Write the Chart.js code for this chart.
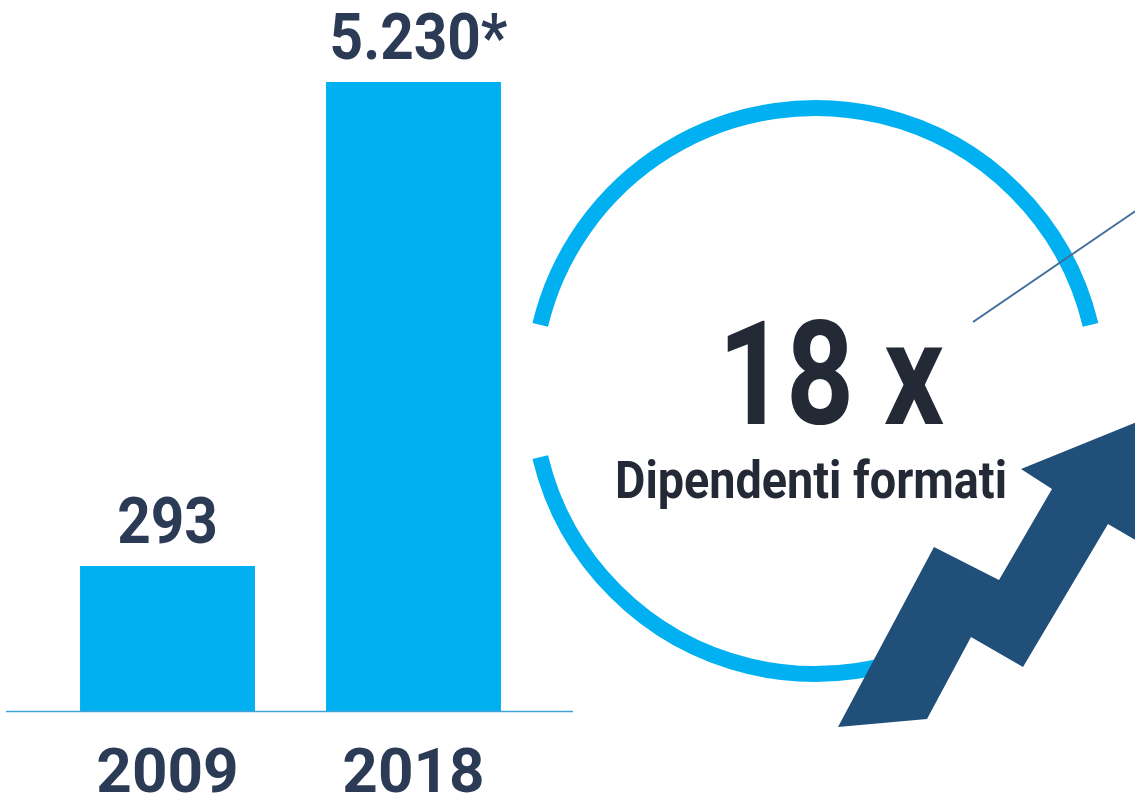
<!DOCTYPE html>
<html>
<head>
<meta charset="utf-8">
<script src="https://cdn.jsdelivr.net/npm/chart.js@4"></script>
<style>
  html, body { margin: 0; padding: 0; background: #fff; }
  canvas { display: block; }
</style>
</head>
<body>
<canvas id="trainedChart" width="1135" height="802"></canvas>
<script>
const years = ['2009', '2018'];
const trained = [293, 5230];
const notes = ['', '*'];
const caption = 'Dipendenti formati';

const FONT = 'Roboto, "Liberation Sans", sans-serif';
const BLUE = '#00b0f0';
const NAVY = '#2b3a55';

// 5230 -> "5.230"
const fmt = v => String(v).replace(/\B(?=(\d{3})+(?!\d))/g, '.');

// draw text centred on x, squeezed horizontally to a given width
function fitText(ctx, text, x, y, width) {
  const w = ctx.measureText(text).width;
  ctx.save();
  ctx.translate(x, y);
  ctx.scale(Math.min(1, width / w), 1);
  ctx.textAlign = 'center';
  ctx.fillText(text, 0, 0);
  ctx.restore();
}

// values over the bars
const valueLabels = {
  id: 'valueLabels',
  afterDatasetsDraw(chart) {
    const ctx = chart.ctx;
    const meta = chart.getDatasetMeta(0);
    ctx.save();
    ctx.fillStyle = NAVY;
    ctx.font = 'bold 65px ' + FONT;
    ctx.textBaseline = 'alphabetic';
    meta.data.forEach((bar, i) => {
      const txt = fmt(trained[i]) + notes[i];
      const w = ctx.measureText(txt).width * 0.9;
      fitText(ctx, txt, bar.x + (notes[i] ? 5 : 0), bar.y - 23.5, w);
    });
    ctx.restore();
  }
};

// baseline, ring, pointer line, growth arrow and the ratio text
const decorations = {
  id: 'decorations',
  afterDraw(chart) {
    const ctx = chart.ctx;
    const area = chart.chartArea;
    ctx.save();

    ctx.strokeStyle = '#3fa3da';
    ctx.lineWidth = 1.5;
    ctx.beginPath();
    ctx.moveTo(6, area.bottom + 0.5);
    ctx.lineTo(573, area.bottom + 0.5);
    ctx.stroke();

    const cx = 815.4, cy = 391, r = 283;
    const gap = 13.5 * Math.PI / 180;
    ctx.strokeStyle = BLUE;
    ctx.lineWidth = 16;
    ctx.lineCap = 'butt';
    ctx.beginPath();
    ctx.arc(cx, cy, r, Math.PI + gap, 2 * Math.PI - gap);
    ctx.stroke();
    ctx.beginPath();
    ctx.arc(cx, cy, r, gap, Math.PI - gap);
    ctx.stroke();

    ctx.strokeStyle = '#3f6d9b';
    ctx.lineWidth = 2;
    ctx.beginPath();
    ctx.moveTo(973, 322);
    ctx.lineTo(1137, 210);
    ctx.stroke();

    ctx.fillStyle = '#232a36';
    ctx.textBaseline = 'alphabetic';
    ctx.font = 'bold 145px ' + FONT;
    fitText(ctx, Math.round(trained[1] / trained[0]) + ' x', 831, 424, 226);
    ctx.font = 'bold 51px ' + FONT;
    fitText(ctx, caption, 811, 498, 392);

    ctx.fillStyle = '#204f7a';
    ctx.beginPath();
    [[1137, 422], [1021, 469], [1052, 489], [999, 580], [934, 547], [838, 727],
     [927, 719], [971, 637], [1023, 667], [1108, 524], [1137, 541]]
      .forEach(([x, y], i) => i ? ctx.lineTo(x, y) : ctx.moveTo(x, y));
    ctx.closePath();
    ctx.fill();

    ctx.restore();
  }
};

new Chart(document.getElementById('trainedChart'), {
  type: 'bar',
  data: {
    labels: years,
    datasets: [{
      data: trained,
      backgroundColor: BLUE,
      borderWidth: 0,
      barPercentage: 0.711,
      categoryPercentage: 1
    }]
  },
  options: {
    responsive: false,
    animation: false,
    devicePixelRatio: 1,
    layout: { padding: { top: 82, left: 44.5, right: 598.5, bottom: 0 } },
    plugins: {
      legend: { display: false },
      tooltip: { enabled: false }
    },
    scales: {
      x: {
        grid: { display: false, drawTicks: false },
        border: { display: false },
        ticks: {
          color: NAVY,
          padding: 34,
          font: { family: FONT, size: 62, weight: 'bold', lineHeight: 1 }
        },
        afterFit: s => { s.height = 91; }
      },
      y: {
        type: 'logarithmic',
        display: false,
        bounds: 'data',
        min: 123.6,
        max: 5230
      }
    }
  },
  plugins: [valueLabels, decorations]
});
</script>
</body>
</html>
